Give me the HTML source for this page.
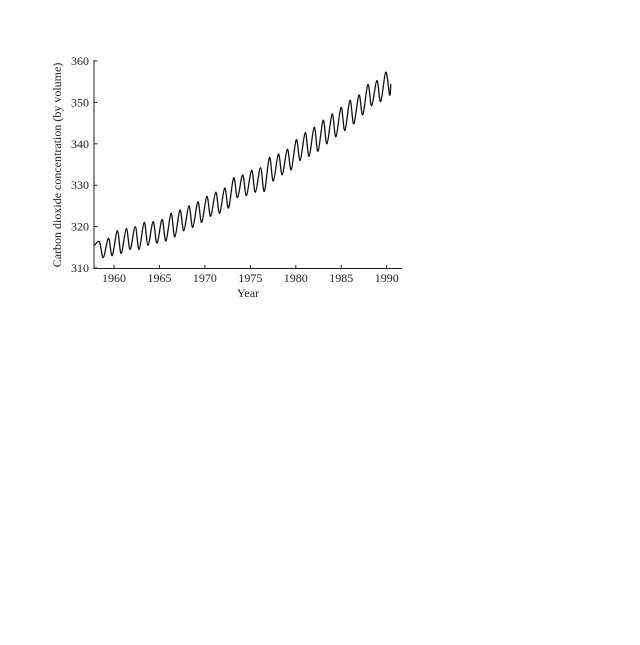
<!DOCTYPE html>
<html><head><meta charset="utf-8"><style>
html,body{margin:0;padding:0;background:#fff;}
svg text{font-family:"Liberation Serif",serif;fill:#222;}
</style></head><body>
<svg width="640" height="640" viewBox="0 0 640 640">
<g id="axes"></g>
<path id="series" fill="none" stroke="#111" stroke-width="1.3"/>
<text x="248" y="297" font-size="12" text-anchor="middle">Year</text>
<text transform="translate(61,165) rotate(-90)" font-size="12" text-anchor="middle">Carbon dioxide concentration (by volume)</text>
</svg>
<script>
const years=[1958,1959,1960,1961,1962,1963,1964,1965,1966,1967,1968,1969,1970,1971,1972,1973,1974,1975,1976,1977,1978,1979,1980,1981,1982,1983,1984,1985,1986,1987,1988,1989,1990];
const peaks=[316.3,317.2,319,319.5,320,321,321.2,321.7,323.2,324,325,326,327.3,328.3,329.3,331.8,332.5,333.6,334.2,336.7,337.5,338.7,341,342.7,344,345.7,347.2,348.8,350.5,351.8,354.3,355.3,357.3];
const troughs=[312.5,313,313.5,314.5,314.5,315.5,316,316.5,317.5,319,319.8,321,322.5,323.2,324.5,327,327.5,328.3,328.5,331,332.5,333.7,336,337,338.2,340,341.7,343.2,344.8,347,349.2,350.2,351.8];
const startYear=1957.85, startVal=315.5, endYear=1990.45, endVal=354.5;
const xTicks=[1960,1965,1970,1975,1980,1985,1990];
const yTicks=[310,320,330,340,350,360];
const X=y=>114+(y-1960)*9.09;
const Y=v=>268-(v-310)*(207/50);
const phase=yr=>yr+0.4-0.5*(yr-1958)/32;
const ns="http://www.w3.org/2000/svg";
const ax=document.getElementById('axes');
function mk(t,a){const e=document.createElementNS(ns,t);for(const k in a)e.setAttribute(k,a[k]);ax.appendChild(e);return e;}
const yl=mk('line',{x1:94,y1:60,x2:94,y2:268.5,stroke:'#222','stroke-width':1});


const xl=mk('line',{x1:93.5,y1:268.5,x2:402,y2:268.5,stroke:'#222','stroke-width':1});


yTicks.forEach(v=>{
  mk('line',{x1:94,y1:Y(v),x2:97.5,y2:Y(v),stroke:'#222'});
  const t=mk('text',{x:89,y:Y(v)+4,'font-size':12,'text-anchor':'end'});t.textContent=v;
  
  
});
xTicks.forEach(v=>{
  mk('line',{x1:X(v),y1:268.5,x2:X(v),y2:265,stroke:'#222'});
  const t=mk('text',{x:X(v),y:282,'font-size':12,'text-anchor':'middle'});t.textContent=v;
  
  
});
const pts=[[X(startYear),Y(startVal)]];
years.forEach((yr,i)=>{const p=phase(yr);pts.push([X(p),Y(peaks[i])]);pts.push([X(p+0.42),Y(troughs[i])]);});
pts.push([X(endYear),Y(endVal)]);
let d='M'+pts[0][0]+','+pts[0][1];
for(let i=0;i<pts.length-1;i++){
  const p0=pts[Math.max(0,i-1)],p1=pts[i],p2=pts[i+1],p3=pts[Math.min(pts.length-1,i+2)];
  const c1=[p1[0]+(p2[0]-p0[0])/6,p1[1]+(p2[1]-p0[1])/6];
  const c2=[p2[0]-(p3[0]-p1[0])/6,p2[1]-(p3[1]-p1[1])/6];
  d+=`C${c1[0]},${c1[1]} ${c2[0]},${c2[1]} ${p2[0]},${p2[1]}`;
}
document.getElementById('series').setAttribute('d',d);
</script>
</body></html>
